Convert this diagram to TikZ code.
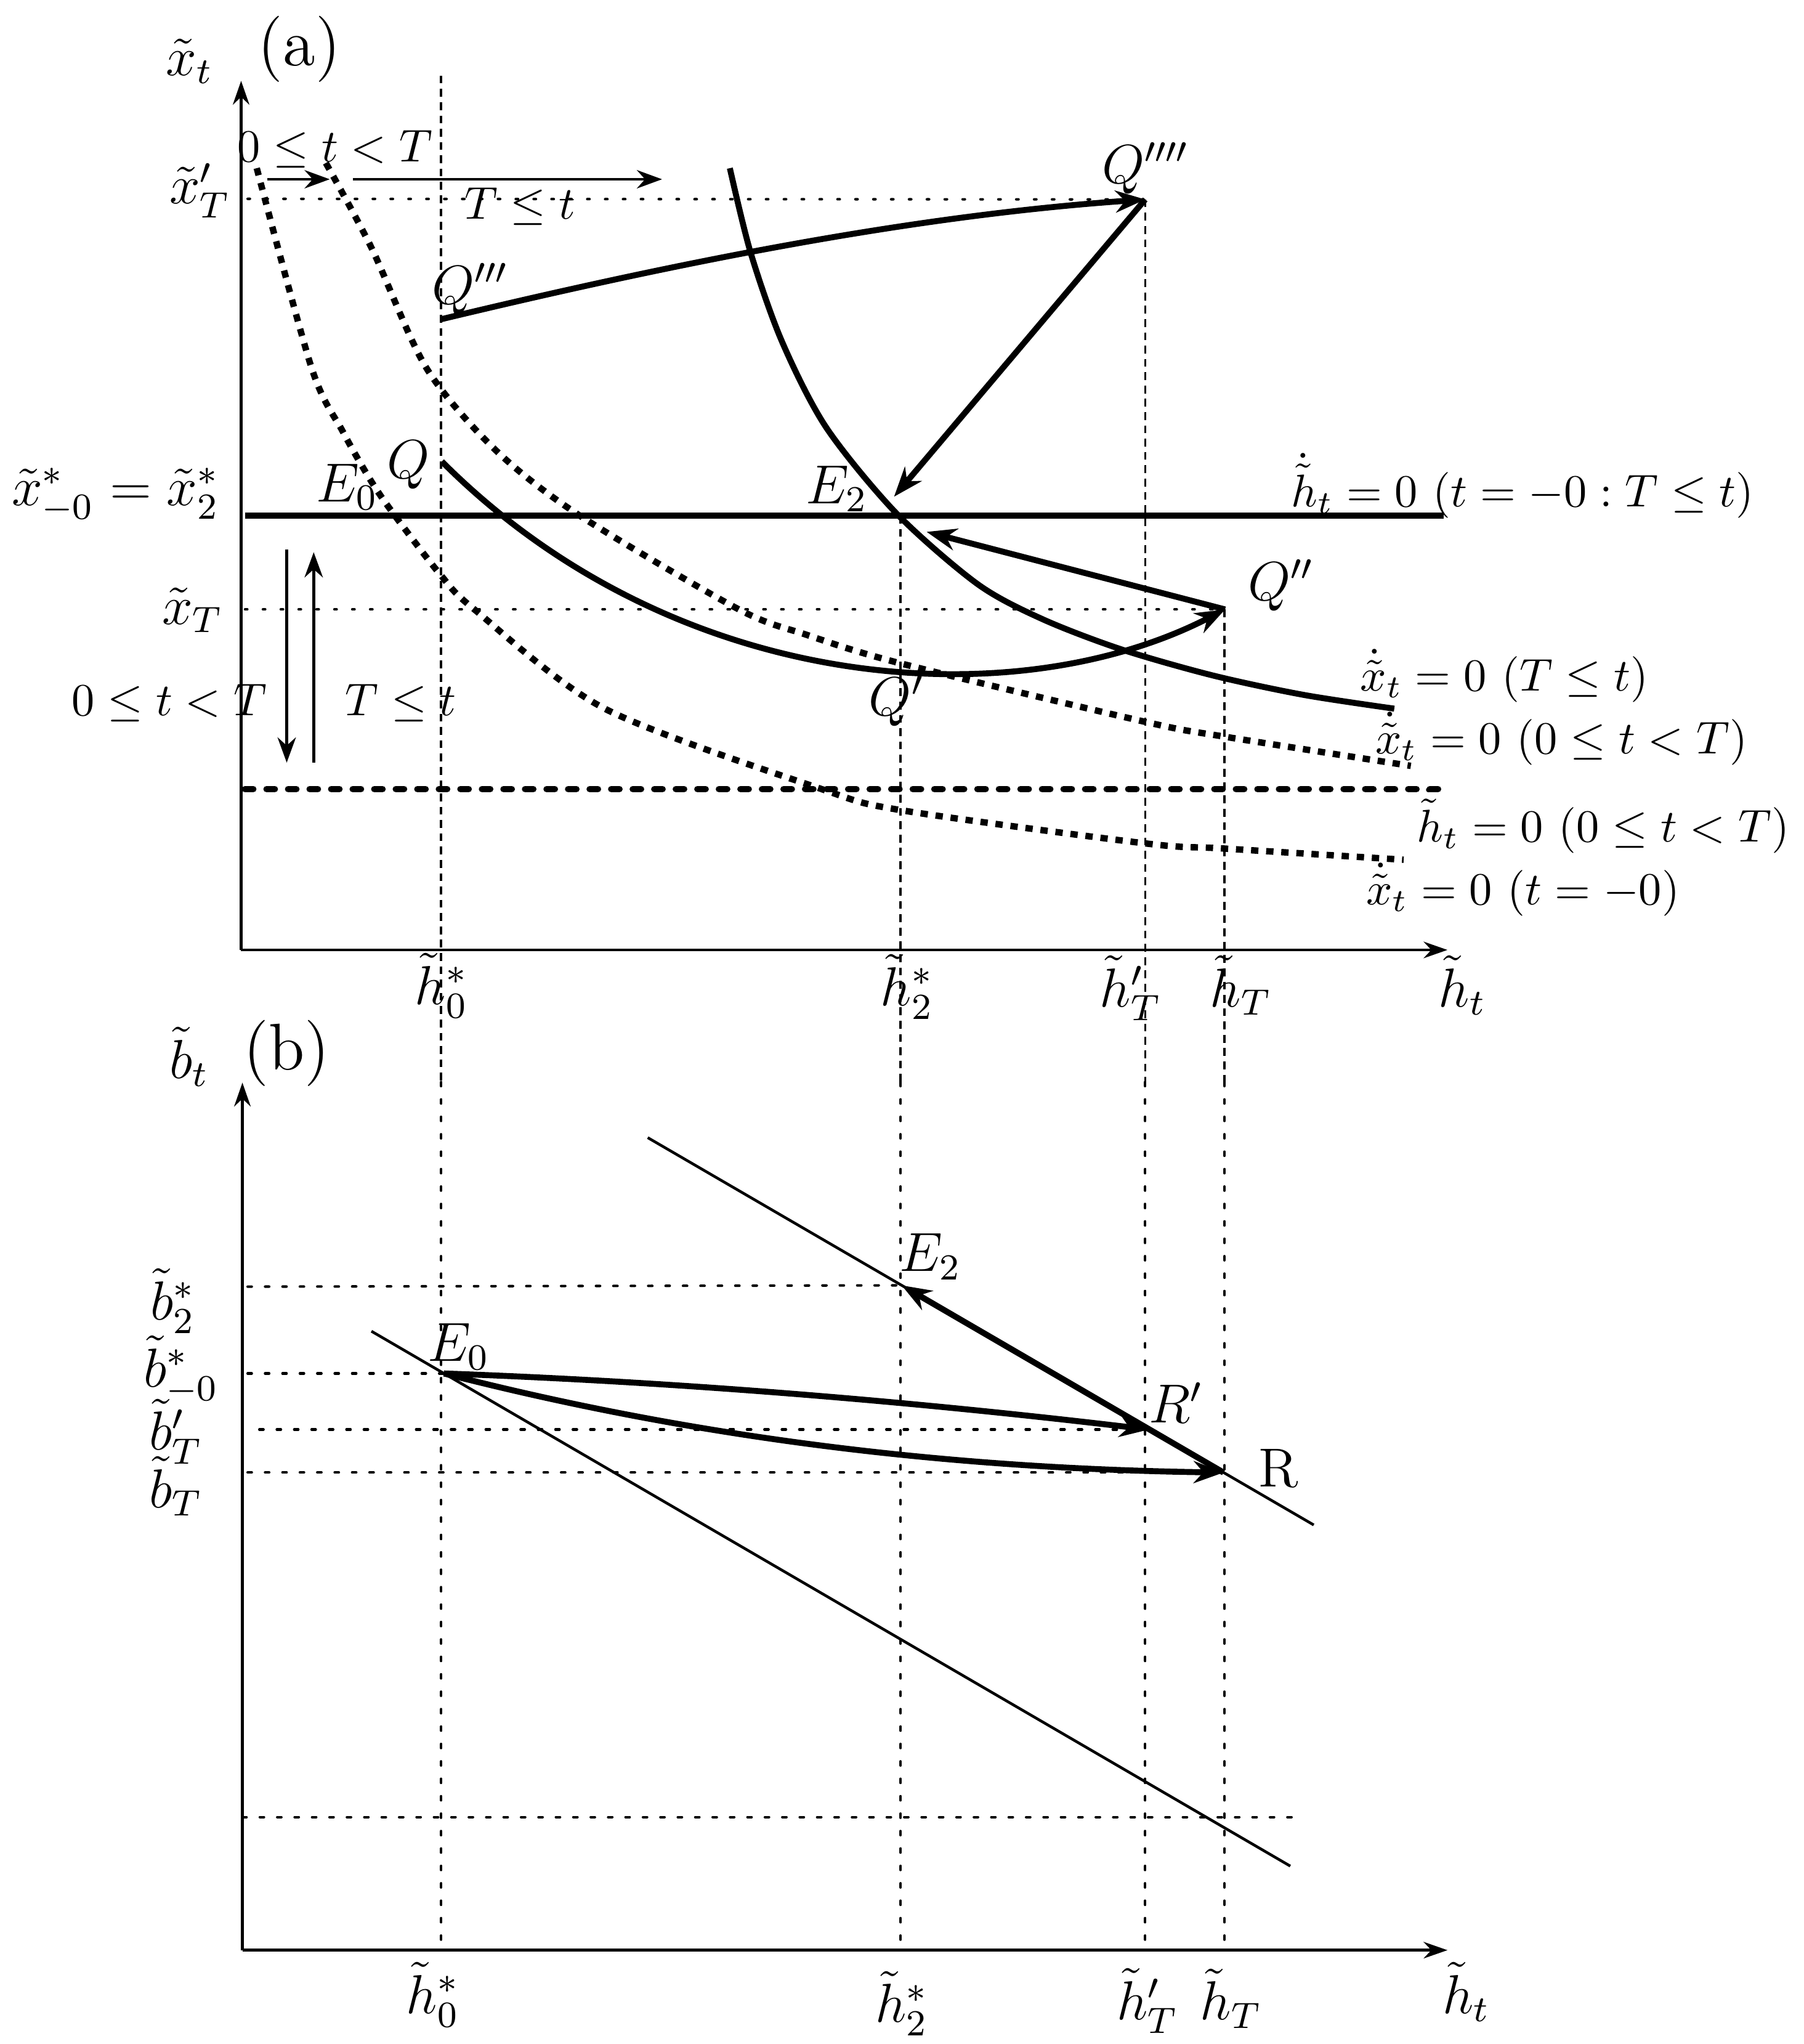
\documentclass[tikz,border=0pt]{standalone}
\usepackage{amsmath}
\usetikzlibrary{arrows.meta}
\begin{document}
\begin{tikzpicture}[x=0.01cm,y=-0.01cm,
  axis/.style={line width=0.6pt,-{Stealth[length=5.2pt,width=3.6pt]}},
  thickline/.style={line width=1.3pt},
  thickarrow/.style={line width=1.3pt,-{Stealth[length=6.5pt,width=4.8pt]}},
  thinarrow/.style={line width=0.6pt,-{Stealth[length=5.5pt,width=4pt]}},
  sqdots/.style={line width=1.4pt,dash pattern=on 1.6pt off 1.7pt},
  bigdash/.style={line width=1.4pt,dash pattern=on 1.8pt off 2.9pt,line cap=round},
  hguide/.style={line width=0.55pt,dash pattern=on 0.5pt off 3.4pt,line cap=round},
  vguideA/.style={line width=0.5pt,dash pattern=on 1.7pt off 1.2pt},
  vguideB/.style={line width=0.55pt,dash pattern=on 0.9pt off 2.9pt,line cap=round},
  thinline/.style={line width=0.6pt},
  lbl/.style={inner sep=0pt},
  big/.style={inner sep=0pt,font=\large}
]
\useasboundingbox (0,0) rectangle (1384,1568);

% ================= panel (a) =================
\coordinate (Oa) at (185,728.7);
\coordinate (Ya) at (185,62);
\coordinate (Xa) at (1110.6,728.7);
\coordinate (HL) at (188,395.5);
\coordinate (HR) at (1107.6,395.5);
\coordinate (DL) at (188,605.3);
\coordinate (DR) at (1111.8,605.3);
\coordinate (xTL) at (188,467.5);
\coordinate (xTpL) at (190,152.5);
\coordinate (Q) at (339,354);
\coordinate (Q3) at (338,245);
\coordinate (Q4) at (878.7,153);
\coordinate (Q2) at (940,467.5);
\coordinate (E2tipA) at (686,381);
\coordinate (E2tipB) at (711,408);
\coordinate (A1s) at (205,137.5);
\coordinate (A1e) at (253,137.5);
\coordinate (A2s) at (271,137.5);
\coordinate (A2e) at (508,137.5);
\coordinate (Ds) at (220,421.6);
\coordinate (De) at (220,585);
\coordinate (Us) at (240.7,585);
\coordinate (Ue) at (240.7,423.6);

% vertical guides (upper part)
\coordinate (V0t) at (338.5,58);
\coordinate (V0m) at (338.5,830);
\coordinate (V2t) at (691,395.5);
\coordinate (V2m) at (691,830);
\coordinate (V3t) at (878.7,153);
\coordinate (V3m) at (878.7,830);
\coordinate (V4t) at (939.5,467.5);
\coordinate (V4m) at (939.5,830);
\draw[vguideA] (V0t) -- (V0m);
\draw[vguideA] (V2t) -- (V2m);
\draw[vguideA] (V3t) -- (V3m);
\draw[vguideA] (V4t) -- (V4m);

% horizontal guides
\draw[hguide] (xTpL) -- (Q4);
\draw[hguide] (xTL) -- (Q2);

% axes
\draw[axis] (Oa) -- (Ya);
\draw[axis] (Oa) -- (Xa);

% hdot = 0 lines
\draw[thickline] (HL) -- (HR);
\draw[bigdash] (DL) -- (DR);

% xdot = 0 dotted curves
\draw[sqdots] plot[smooth] coordinates {(197,129) (239,282) (263,331) (284.6,368.8) (302.6,395) (337.7,440.6) (364,467.5) (464,543.6) (629.5,605) (692,621.6) (879,647) (939,650.9) (1077,659.5)};
\draw[sqdots] plot[smooth] coordinates {(250,125) (285,190) (327,282) (380,345) (444,395) (566,467) (619,487) (691.5,509) (879,553.8) (939,565) (1082.5,587.5)};

% xdot = 0 (T<=t) solid curve
\draw[thickline] plot[smooth] coordinates {(560,129) (576,194) (600,262) (634,328) (688,394) (750,448) (800,475) (860,498) (930,518) (1000,533) (1069.8,543.6)};

% trajectories
\draw[thickarrow] (Q3) .. controls (518,201.8) and (698,165.6) .. (Q4);
\draw[thickarrow] (Q4) -- (E2tipA);
\draw[thickarrow] (Q) .. controls (520,535) and (780,550) .. (Q2);
\draw[thickarrow] (Q2) -- (E2tipB);

% time arrows
\draw[thinarrow] (A1s) -- (A1e);
\draw[thinarrow] (A2s) -- (A2e);
\draw[thinarrow] (Ds) -- (De);
\draw[thinarrow] (Us) -- (Ue);

% labels (a)
\node[big] (lxt) at (145.5,47) {$\tilde{x}_t$};
\node[lbl] (la) at (229.6,37.5) {\Large (a)};
\node[big] (lxTp) at (153.5,146) {$\tilde{x}'_T$};
\node[big] (lxstar) at (88.6,380) {$\tilde{x}^*_{-0}=\tilde{x}^*_2$};
\node[big] (lxT) at (147.7,468) {$\tilde{x}_T$};
\node[lbl,anchor=base] (lt1) at (257,124) {$0\leq t<T$};
\node[lbl,anchor=base] (lt2) at (399,168) {$T\leq t$};
\node[lbl,anchor=base] (lt3) at (130,549) {$0\leq t<T$};
\node[lbl,anchor=base] (lt4) at (307.4,549) {$T\leq t$};
\node[big] (lE0) at (266.5,373.5) {$E_0$};
\node[big] (lQ) at (313.5,356.6) {$Q$};
\node[big] (lQ3) at (360.7,221.6) {$Q'''$};
\node[big] (lQ4) at (879,129) {$Q''''$};
\node[big] (lE2) at (642,375) {$E_2$};
\node[big] (lQ2) at (983,449) {$Q''$};
\node[big] (lQ1) at (688,537.5) {$Q'$};
\node[lbl,anchor=base west] (lh1) at (990,388.6) {$\dot{\tilde{h}}_t=0\ (t=-0:T\leq t)$};
\node[lbl,anchor=base west] (lx1) at (1043,530) {$\dot{\tilde{x}}_t=0\ (T\leq t)$};
\node[lbl,anchor=base west] (lx2) at (1054.6,578) {$\dot{\tilde{x}}_t=0\ (0\leq t<T)$};
\node[lbl,anchor=base west] (lh2) at (1086.6,645.6) {$\dot{\tilde{h}}_t=0\ (0\leq t<T)$};
\node[lbl,anchor=base west] (lx3) at (1047.5,694) {$\dot{\tilde{x}}_t=0\ (t=-0)$};
\node[big] (lh0a) at (338.7,756) {$\tilde{h}^*_0$};
\node[big] (lh2a) at (696,757) {$\tilde{h}^*_2$};
\node[big] (lhTpa) at (867.5,758) {$\tilde{h}'_T$};
\node[big] (lhTa) at (952,756) {$\tilde{h}_T$};
\node[big] (lhta) at (1122,756) {$\tilde{h}_t$};

% ================= panel (b) =================
\coordinate (Ob) at (186,1496);
\coordinate (Yb) at (186,830.5);
\coordinate (Xb) at (1110.6,1496);
\coordinate (E0b) at (340.6,1053.6);
\coordinate (E2b) at (691.8,986);
\coordinate (Rp) at (881.7,1096.6);
\coordinate (R) at (938.8,1129.6);
\coordinate (U1) at (497,872.7);
\coordinate (U2) at (1008,1169.8);
\coordinate (L1) at (285,1021.2);
\coordinate (L2) at (990,1431.5);
\coordinate (BL) at (186,1394);
\coordinate (BR) at (1001,1394);
\coordinate (g1) at (190,987);
\coordinate (g2) at (190,1053.6);
\coordinate (g3) at (199,1096.6);
\coordinate (g4) at (190,1129.6);
\coordinate (V0b) at (338.5,1496);
\coordinate (V2b) at (691,1496);
\coordinate (V3b) at (878.7,1496);
\coordinate (V4b) at (939.5,1496);

\draw[vguideB] (V0m) -- (V0b);
\draw[vguideB] (V2m) -- (V2b);
\draw[vguideB] (V3m) -- (V3b);
\draw[vguideB] (V4m) -- (V4b);

\draw[vguideB] (g1) -- (E2b);
\draw[vguideB] (g2) -- (E0b);
\draw[vguideB] (g3) -- (Rp);
\draw[vguideB] (g4) -- (R);
\draw[vguideB] (BL) -- (BR);

\draw[axis] (Ob) -- (Yb);
\draw[axis] (Ob) -- (Xb);

\draw[thinline] (U1) -- (U2);
\draw[thinline] (L1) -- (L2);

\draw[thickarrow] (E0b) .. controls (520,1060) and (700,1075) .. (Rp);
\draw[thickarrow] (E0b) .. controls (560,1110) and (760,1127) .. (R);
\draw[thickarrow] (R) -- (E2b);

\node[big] (lbt) at (145.3,810.7) {$\tilde{b}_t$};
\node[lbl] (lb) at (220,808) {\Large (b)};
\node[big] (lb2) at (132.5,998) {$\tilde{b}^*_2$};
\node[big] (lb0) at (139,1051) {$\tilde{b}^*_{-0}$};
\node[big] (lbTp) at (135,1098) {$\tilde{b}'_T$};
\node[big] (lbT) at (135,1140) {$\tilde{b}_T$};
\node[big] (lE0b) at (352,1033) {$E_0$};
\node[big] (lE2b) at (714,964) {$E_2$};
\node[big] (lRp) at (902.5,1076) {$R'$};
\node[big] (lR) at (981,1126.5) {R};
\node[big] (lh0b) at (332,1530) {$\tilde{h}^*_0$};
\node[big] (lh2b) at (692,1537) {$\tilde{h}^*_2$};
\node[big] (lhTpb) at (880.5,1535) {$\tilde{h}'_T$};
\node[big] (lhTb) at (944.5,1533) {$\tilde{h}_T$};
\node[big] (lhtb) at (1125,1528) {$\tilde{h}_t$};
\end{tikzpicture}
\end{document}
